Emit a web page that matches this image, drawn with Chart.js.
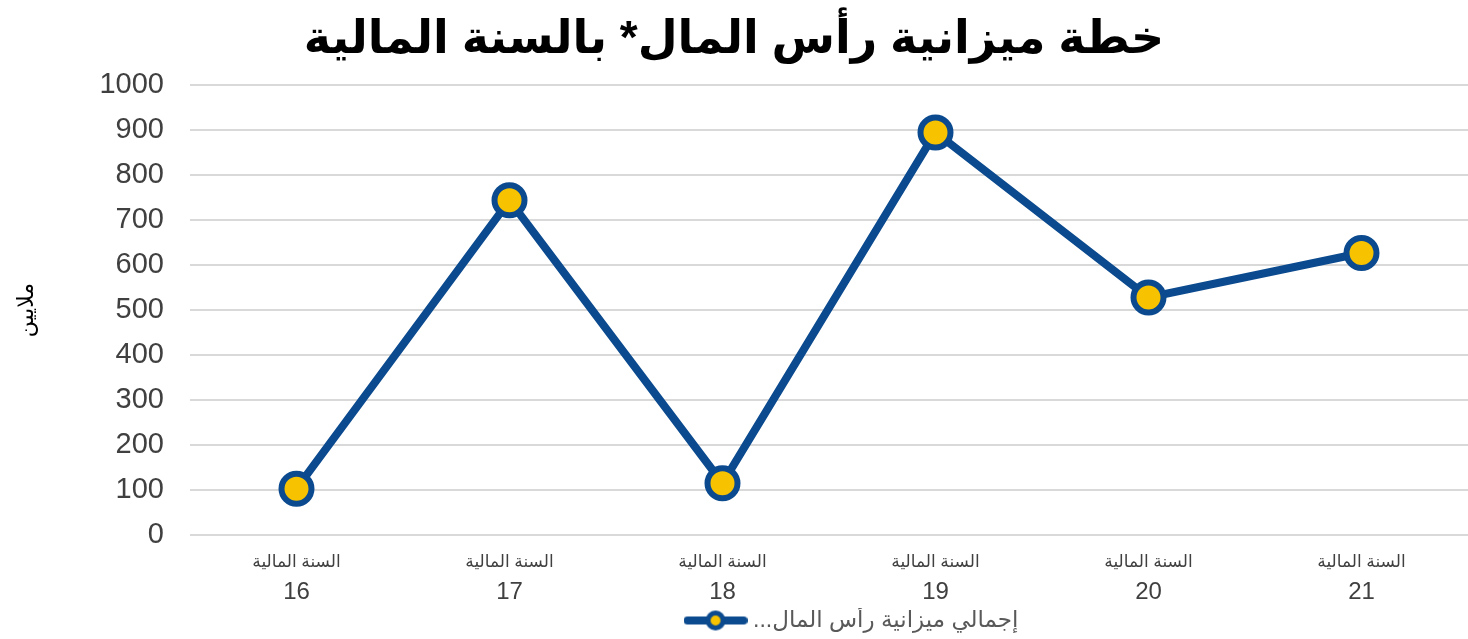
<!DOCTYPE html>
<html>
<head>
<meta charset="utf-8">
<script src="https://cdn.jsdelivr.net/npm/chart.js@4"></script>
<style>
  body { margin: 0; background: #fff; }
</style>
</head>
<body>
<canvas id="myChart" width="1468" height="639"></canvas>
<script>
// 데이터
var years = ['16', '17', '18', '19', '20', '21'];
var yearPrefix = 'السنة المالية';
var budget = [103, 744, 115, 895, 528, 627];
var yTicks = [0, 100, 200, 300, 400, 500, 600, 700, 800, 900, 1000];
var seriesName = 'إجمالي ميزانية رأس المال...';
var chartTitle = 'خطة ميزانية رأس المال* بالسنة المالية';
var yTitle = 'ملايين';

var blue = '#0b4a8e';
var yellow = '#f7c200';
var font = 'Arial, "DejaVu Sans"';

// 범례 마커 (선 + 원)
var marker = document.createElement('canvas');
marker.width = 64;
marker.height = 24;
var mctx = marker.getContext('2d');
mctx.strokeStyle = blue;
mctx.lineWidth = 8;
mctx.lineCap = 'round';
mctx.beginPath();
mctx.moveTo(4, 12);
mctx.lineTo(60, 12);
mctx.stroke();
mctx.beginPath();
mctx.arc(32, 12, 7.5, 0, Math.PI * 2);
mctx.fillStyle = yellow;
mctx.fill();
mctx.lineWidth = 5;
mctx.stroke();

// x축 라벨 두 줄 (글자 크기 다름)
var xLabelPlugin = {
    id: 'xLabels',
    afterLayout: function (chart) {
        // 범례를 조금 오른쪽으로
        var lg = chart.legend;
        lg.left += 25;
        lg.right += 25;
        lg.top += 3;
        lg.bottom += 3;
    },
    afterDraw: function (chart) {
        var xs = chart.scales.x;
        var c = chart.ctx;
        c.save();
        c.fillStyle = '#404040';
        c.textAlign = 'center';
        c.textBaseline = 'middle';
        years.forEach(function (y, i) {
            var px = xs.getPixelForTick(i);
            c.font = '17px ' + font;
            c.fillText(yearPrefix, px, xs.top + 27);
            c.font = '24px ' + font;
            c.fillText(y, px, xs.top + 57);
        });
        c.restore();
    }
};

var ctx = document.getElementById('myChart').getContext('2d');
var myChart = new Chart(ctx, {
    type: 'line',
    data: {
        labels: years,
        datasets: [{
            label: seriesName,
            data: budget,
            borderColor: blue,
            borderWidth: 8,
            pointRadius: 15,
            pointBorderWidth: 6,
            pointBackgroundColor: yellow,
            pointBorderColor: blue,
            pointStyle: 'circle',
            tension: 0,
            fill: false
        }]
    },
    plugins: [xLabelPlugin],
    options: {
        responsive: false,
        animation: false,
        layout: { autoPadding: false, padding: { left: 0, right: 0, top: 0, bottom: 0 } },
        plugins: {
            title: {
                display: true,
                text: chartTitle,
                color: '#000',
                font: { family: font, size: 46, weight: 'bold' },
                padding: { top: 13, bottom: 17 }
            },
            legend: {
                position: 'bottom',
                fullSize: false,
                textDirection: 'rtl',
                labels: {
                    usePointStyle: true,
                    pointStyleWidth: 52,
                    color: '#595959',
                    font: { family: font, size: 23 },
                    padding: 1,
                    generateLabels: function (chart) {
                        return [{
                            text: seriesName,
                            pointStyle: marker,
                            fillStyle: yellow,
                            strokeStyle: blue,
                            lineWidth: 0,
                            fontColor: '#595959',
                            datasetIndex: 0
                        }];
                    }
                }
            },
            tooltip: { enabled: false }
        },
        scales: {
            x: {
                offset: true,
                grid: { display: false, drawTicks: false },
                border: { display: false },
                ticks: { display: false },
                afterFit: function (scale) {
                    scale.height = 70;
                    scale.paddingLeft = 0;
                    scale.paddingRight = 0;
                }
            },
            y: {
                min: 0,
                max: 1000,
                afterFit: function (scale) { scale.width = 190; },
                afterBuildTicks: function (scale) {
                    scale.ticks = yTicks.map(function (v) { return { value: v }; });
                },
                grid: { color: '#d9d9d9', lineWidth: 2, drawTicks: false },
                border: { display: false },
                ticks: {
                    color: '#404040',
                    font: { family: font, size: 29 },
                    padding: 26,
                    callback: function (v) { return String(v); }
                },
                title: {
                    display: true,
                    text: yTitle,
                    color: '#000',
                    font: { family: font, size: 22 },
                    padding: { top: 14, bottom: 0 }
                }
            }
        }
    }
});
</script>
</body>
</html>
